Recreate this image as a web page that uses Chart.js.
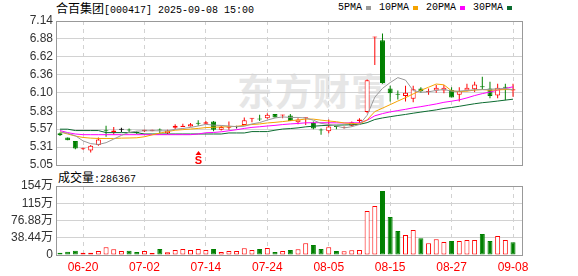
<!DOCTYPE html>
<html>
<head>
<meta charset="utf-8">
<script src="https://cdn.jsdelivr.net/npm/chart.js@4.4.1/dist/chart.umd.min.js"></script>
<style>
  html, body { margin: 0; padding: 0; background: #fff; }
  #wrap { position: relative; width: 578px; height: 276px; overflow: hidden; }
  #wrap canvas { position: absolute; left: 0; }
  .txt { position: absolute; white-space: nowrap; color: #000; line-height: 16px; }
  .cjk { font-family: 'Noto Sans CJK SC', sans-serif; font-size: 12px; }
  .mono { font-family: 'Liberation Mono', monospace; font-size: 10px; }
  #title { left: 56px; top: 0; }
  #legend { left: 338px; top: 0; display: flex; align-items: center; }
  #legend .item { display: flex; align-items: center; margin-right: 8px; }
  #legend .sq { width: 5px; height: 4px; margin-left: 4px; }
  #volTitle { left: 58px; top: 169px; }
  #mark { left: 237px; top: 70px; font-family: 'Noto Sans CJK SC', sans-serif; font-weight: bold;
          font-size: 37px; line-height: 40px; color: #e6e6e6; letter-spacing: 1px; }
</style>
</head>
<body>
<div id="wrap">
  <div class="txt" id="mark">东方财富</div>
  <div class="txt" id="title"><span class="cjk">合百集团</span><span class="mono">[000417] 2025-09-08 15:00</span></div>
  <div class="txt mono" id="legend"></div>
  <div class="txt" id="volTitle"><span class="cjk">成交量</span><span class="mono">:286367</span></div>
  <canvas id="kChart" width="578" height="180" style="top:0"></canvas>
  <canvas id="volChart" width="578" height="106" style="top:170px"></canvas>
</div>
<script>
// trading days
const dates = ['06-17','06-18','06-19','06-20','06-23','06-24','06-25','06-26','06-27','06-30',
  '07-01','07-02','07-03','07-04','07-07','07-08','07-09','07-10','07-11','07-14',
  '07-15','07-16','07-17','07-18','07-21','07-22','07-23','07-24','07-25','07-28',
  '07-29','07-30','07-31','08-01','08-04','08-05','08-06','08-07','08-08','08-11',
  '08-12','08-13','08-14','08-15','08-18','08-19','08-20','08-21','08-22','08-25',
  '08-26','08-27','08-28','08-29','09-01','09-02','09-03','09-04','09-05','09-08'];

const openP = [5.51,5.45,5.40,5.28,5.26,5.34,5.55,5.52,5.56,5.56,
  5.53,5.54,5.54,5.56,5.51,5.59,5.60,5.61,5.66,5.65,
  5.68,5.56,5.59,5.60,5.63,5.72,5.72,5.73,5.79,5.77,
  5.77,5.67,5.73,5.66,5.56,5.54,5.61,5.59,5.62,5.69,
  5.82,6.90,6.86,6.16,6.08,6.05,6.01,6.16,6.11,6.13,
  6.13,6.14,6.07,6.13,6.15,6.19,6.16,6.06,6.18,6.13];
const highP = [5.52,5.45,5.40,5.30,5.34,5.45,5.62,5.60,5.59,5.58,
  5.54,5.56,5.56,5.58,5.56,5.64,5.65,5.66,5.70,5.69,
  5.69,5.62,5.68,5.62,5.74,5.73,5.78,5.80,5.79,5.78,
  5.79,5.73,5.74,5.68,5.58,5.71,5.62,5.61,5.68,5.73,
  6.29,6.91,6.96,6.20,6.13,6.20,6.20,6.18,6.16,6.21,
  6.21,6.18,6.18,6.23,6.26,6.33,6.26,6.23,6.23,6.23];
const lowP = [5.47,5.41,5.28,5.27,5.23,5.33,5.46,5.49,5.53,5.53,
  5.50,5.53,5.54,5.51,5.50,5.57,5.60,5.61,5.62,5.64,
  5.54,5.55,5.56,5.58,5.63,5.67,5.69,5.72,5.74,5.73,
  5.69,5.64,5.63,5.57,5.49,5.51,5.57,5.58,5.61,5.66,
  5.80,6.50,6.23,5.97,6.00,5.97,5.96,6.10,6.07,6.10,
  6.09,6.03,5.97,6.12,6.11,6.14,6.02,6.02,5.99,6.04];
const closeP = [5.48,5.41,5.29,5.29,5.33,5.42,5.54,5.55,5.56,5.55,
  5.51,5.56,5.56,5.55,5.55,5.62,5.62,5.64,5.65,5.67,
  5.56,5.60,5.60,5.60,5.70,5.73,5.71,5.78,5.74,5.78,
  5.69,5.71,5.74,5.58,5.55,5.61,5.60,5.60,5.67,5.71,
  6.28,6.91,6.24,6.09,6.07,6.10,6.15,6.12,6.12,6.17,
  6.17,6.03,6.12,6.17,6.22,6.18,6.05,6.17,6.17,6.15];
const prevClose = 5.52;

// volume, in 万手
const volume = [5.1,7.4,9.6,5.1,5.1,8.9,17.1,12.6,8.9,9.6,
  6.7,8.9,4.5,13.4,5.9,11.1,13.4,11.1,13.4,11.1,
  13.4,6.7,8.9,8.9,14.8,11.1,13.4,15.6,6.7,8.9,
  11.1,12.6,26.0,22.3,13.4,17.1,8.9,8.2,10.4,11.1,
  98.0,109.0,142.5,84.6,53.4,44.5,55.7,37.1,26.0,35.0,
  29.0,31.2,31.2,33.4,33.4,46.8,31.2,42.3,33.4,28.64];

const ma5 = [5.53,5.51,5.475,5.40,5.36,5.348,5.374,5.426,5.48,5.524,
  5.542,5.546,5.548,5.546,5.546,5.568,5.58,5.596,5.616,5.64,
  5.628,5.624,5.616,5.606,5.612,5.646,5.666,5.702,5.732,5.748,
  5.74,5.74,5.732,5.70,5.654,5.638,5.616,5.588,5.606,5.638,
  5.772,6.034,6.162,6.246,6.318,6.282,6.13,6.106,6.112,6.132,
  6.146,6.122,6.122,6.132,6.142,6.144,6.148,6.158,6.158,6.144];
const ma10 = [5.53,5.50,5.47,5.45,5.44,5.435,5.435,5.435,5.44,5.442,
  5.445,5.46,5.487,5.513,5.535,5.555,5.563,5.572,5.581,5.593,
  5.598,5.602,5.606,5.611,5.626,5.637,5.646,5.66,5.669,5.68,
  5.693,5.703,5.717,5.716,5.701,5.689,5.678,5.66,5.653,5.646,
  5.705,5.825,5.875,5.926,5.978,6.027,6.082,6.134,6.179,6.225,
  6.214,6.126,6.114,6.122,6.137,6.145,6.135,6.14,6.145,6.143];
const ma20 = [5.55,5.52,5.50,5.49,5.49,5.49,5.49,5.49,5.49,5.49,
  5.49,5.49,5.49,5.49,5.49,5.49,5.49,5.49,5.50,5.518,
  5.522,5.532,5.547,5.562,5.581,5.596,5.605,5.616,5.625,5.637,
  5.646,5.653,5.662,5.664,5.664,5.663,5.662,5.66,5.661,5.663,
  5.699,5.764,5.796,5.821,5.84,5.858,5.88,5.897,5.916,5.936,
  5.96,5.976,5.995,6.024,6.058,6.086,6.109,6.137,6.162,6.184];
const ma30 = [5.57,5.57,5.55,5.55,5.55,5.55,5.52,5.52,5.52,5.52,
  5.52,5.50,5.50,5.50,5.50,5.50,5.50,5.50,5.50,5.50,
  5.50,5.50,5.515,5.515,5.515,5.535,5.535,5.535,5.555,5.572,
  5.579,5.589,5.604,5.613,5.621,5.627,5.629,5.631,5.634,5.64,
  5.665,5.71,5.733,5.751,5.768,5.784,5.802,5.818,5.834,5.85,
  5.871,5.885,5.902,5.921,5.939,5.954,5.965,5.978,5.992,6.005];

const maNames = ['5PMA', '10PMA', '20PMA', '30PMA'];
const priceTicks = ['5.05','5.31','5.57','5.83','6.10','6.36','6.62','6.88','7.14'];
const volTickVals = [0, 38.44, 76.88, 115.32, 153.76];
const volTickLabels = ['0', '38.44万', '76.88万', '115万', '154万'];
const tickDates = ['06-20','07-02','07-14','07-24','08-05','08-15','08-27','09-08'];
const signalDate = '07-11';

const RED = '#ff0000', GREEN = '#008000', BLACK = '#000000';
const maColors = ['#999999', '#f5a300', '#ff00ff', '#0b6b30'];
const tickIdx = tickDates.map(d => dates.indexOf(d));
const tickFont = { family: "'Liberation Sans', Arial, 'Noto Sans CJK SC'", size: 12 };

// legend
const legend = document.getElementById('legend');
maNames.forEach((n, i) => {
  legend.insertAdjacentHTML('beforeend',
    `<span class="item">${n}<span class="sq" style="background:${maColors[i]}"></span></span>`);
});

const candleColor = i => closeP[i] > openP[i] ? RED : (closeP[i] < openP[i] ? GREEN : BLACK);
const volUp = i => closeP[i] >= (i === 0 ? prevClose : closeP[i - 1]);

function xAxis(labels) {
  return {
    type: 'linear', min: -0.52, max: 60.17, offset: false,
    afterBuildTicks: a => { a.ticks = tickIdx.map(v => ({ value: v })); },
    afterFit: a => { a.height = labels ? 21 : 0; },
    grid: { color: '#d2d2d2', drawTicks: false, offset: false },
    border: { display: false, dash: [4, 4] },
    ticks: { display: labels, color: RED, font: tickFont, padding: 5, maxRotation: 0,
             autoSkip: false, callback: v => dates[v] }
  };
}

function yAxis(min, max, vals, labels) {
  return {
    min: min, max: max,
    afterBuildTicks: a => { a.ticks = vals.map(v => ({ value: v })); },
    afterFit: a => { a.width = 56; },
    grid: { color: '#d2d2d2', drawTicks: false },
    border: { display: false },
    ticks: { color: '#333', font: tickFont, padding: 3, autoSkip: false,
             callback: (v, i) => labels[i] }
  };
}

const frame = {
  id: 'frame',
  afterDraw(chart) {
    const { ctx, chartArea: a } = chart;
    ctx.save();
    ctx.strokeStyle = '#999';
    ctx.lineWidth = 1;
    ctx.strokeRect(Math.round(a.left) + 0.5, Math.round(a.top) + 0.5,
      Math.round(a.right - a.left), Math.round(a.bottom - a.top));
    ctx.restore();
  }
};

// red "S" marker under the candle
const signal = {
  id: 'signal',
  afterDatasetsDraw(chart) {
    const { ctx, scales } = chart;
    const x = Math.round(scales.x.getPixelForValue(dates.indexOf(signalDate)));
    ctx.save();
    ctx.fillStyle = RED;
    ctx.beginPath();
    ctx.moveTo(x + 0.5, 151);
    ctx.lineTo(x + 3.5, 155);
    ctx.lineTo(x - 2.5, 155);
    ctx.closePath();
    ctx.fill();
    ctx.font = "bold 11px 'Liberation Sans'";
    ctx.textAlign = 'center';
    ctx.textBaseline = 'top';
    ctx.fillText('S', x + 0.5, 155);
    ctx.restore();
  }
};

const maSets = [ma5, ma10, ma20, ma30].map((arr, k) => ({
  type: 'line',
  label: maNames[k],
  data: arr.map((v, i) => ({ x: i, y: v })),
  borderColor: maColors[k],
  borderWidth: 1,
  pointRadius: 0,
  tension: 0,
  order: 0
}));

new Chart(document.getElementById('kChart'), {
  type: 'bar',
  data: {
    datasets: [
      ...maSets,
      {
        label: 'body',
        data: dates.map((d, i) => ({ x: i, y: [openP[i], closeP[i]] })),
        backgroundColor: dates.map((d, i) => closeP[i] > openP[i] ? '#ffffff' : candleColor(i)),
        borderColor: dates.map((d, i) => candleColor(i)),
        borderWidth: 1,
        borderSkipped: false,
        barThickness: 5,
        minBarLength: 1,
        inflateAmount: 0,
        grouped: false,
        order: 1
      },
      {
        label: 'wick',
        data: dates.map((d, i) => ({ x: i, y: [lowP[i], highP[i]] })),
        backgroundColor: dates.map((d, i) => candleColor(i)),
        borderWidth: 0,
        barThickness: 1,
        inflateAmount: 0,
        grouped: false,
        order: 2
      }
    ]
  },
  options: {
    responsive: false,
    animation: false,
    events: [],
    layout: { padding: { top: 21, right: 56, bottom: 15, left: 0 } },
    plugins: { legend: { display: false }, tooltip: { enabled: false } },
    scales: {
      x: xAxis(false),
      y: yAxis(5.05, 7.14, priceTicks.map(Number), priceTicks)
    }
  },
  plugins: [frame, signal]
});

new Chart(document.getElementById('volChart'), {
  type: 'bar',
  data: {
    datasets: [{
      label: '成交量',
      data: volume.map((v, i) => ({ x: i, y: v })),
      backgroundColor: volume.map((v, i) => volUp(i) ? '#ffffff' : GREEN),
      borderColor: volume.map((v, i) => volUp(i) ? RED : GREEN),
      borderWidth: 1,
      borderSkipped: false,
      barThickness: 5,
      inflateAmount: 0,
      grouped: false
    }]
  },
  options: {
    responsive: false,
    animation: false,
    events: [],
    layout: { padding: { top: 16, right: 56, bottom: 0, left: 0 } },
    plugins: { legend: { display: false }, tooltip: { enabled: false } },
    scales: {
      x: xAxis(true),
      y: yAxis(0, 153.76, volTickVals, volTickLabels)
    }
  },
  plugins: [frame]
});
</script>
</body>
</html>
